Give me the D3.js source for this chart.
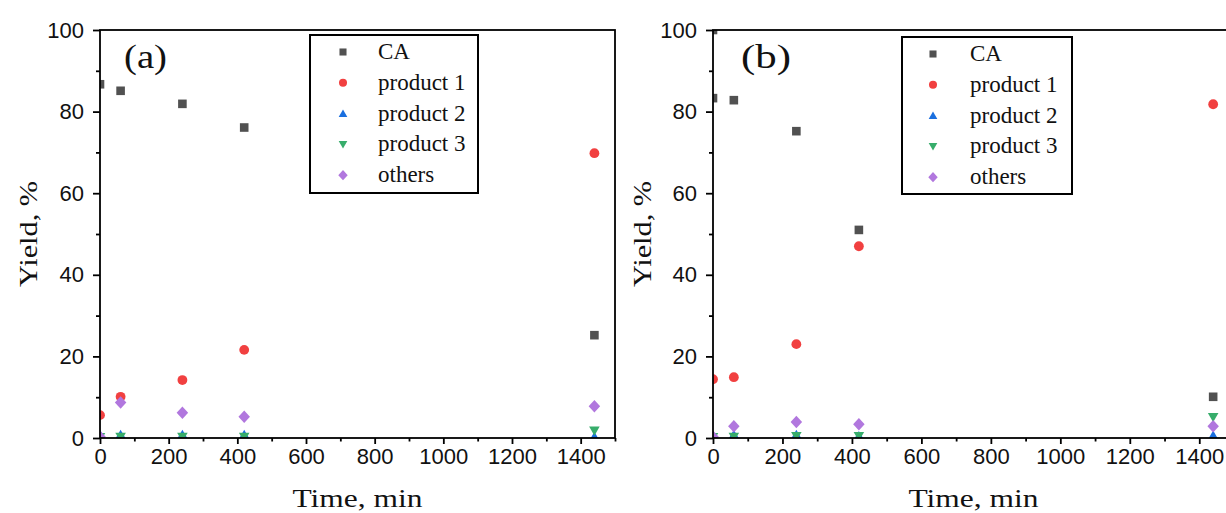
<!DOCTYPE html>
<html>
<head>
<meta charset="utf-8">
<script src="https://cdn.jsdelivr.net/npm/d3@7/dist/d3.min.js"></script>
<style>
  html, body { margin: 0; padding: 0; background: #fff; overflow: hidden; }
  svg { display: block; }
</style>
</head>
<body>
<svg id="chart" width="1226" height="513"></svg>
<script>
// Sampling times (min)
const times = [0, 60, 240, 420, 1440];

// Panel (a) yields, %
const caTimesA = [0, 60, 240, 420, 1440];
const caA   = [86.7, 85.1, 81.9, 76.1, 25.2];
const p1A   = [5.6, 10.1, 14.2, 21.6, 69.8];
const p2A   = [0.8, 0.8, 0.8, 0.8, 0.3];
const p3A   = [0.2, 0.3, 0.3, 0.3, 1.8];
const othA  = [0.3, 8.7, 6.2, 5.2, 7.8];

// Panel (b) yields, %
const caTimesB = [0, 0, 60, 240, 420, 1440];
const caB   = [100, 83.3, 82.8, 75.2, 51.0, 10.1];
const p1B   = [14.4, 14.9, 23.0, 47.0, 81.8];
const p2B   = [0.5, 0.8, 0.8, 0.5, 0.6];
const p3B   = [0.2, 0.3, 0.5, 0.5, 5.1];
const othB  = [0.3, 2.9, 3.9, 3.4, 2.9];

// Axis ticks
const xTicks = [0, 200, 400, 600, 800, 1000, 1200, 1400];
const xMinor = [100, 300, 500, 700, 900, 1100, 1300, 1500];
const yTicks = [0, 20, 40, 60, 80, 100];
const yMinor = [10, 30, 50, 70, 90];

const seriesNames = ["CA", "product 1", "product 2", "product 3", "others"];
const seriesColors = ["#515151", "#F14040", "#1A6FDF", "#37AD6B", "#B177DE"];

// Symbol path generators, r = half size
const shapes = {
  square: r => `M${-r},${-r}H${r}V${r}H${-r}Z`,
  circle: r => d3.symbol(d3.symbolCircle, Math.PI * r * r)(),
  up: r => `M0,${-r * 1.05}L${r * 1.1},${r * 0.85}L${-r * 1.1},${r * 0.85}Z`,
  down: r => `M0,${r * 1.05}L${r * 1.1},${-r * 0.85}L${-r * 1.1},${-r * 0.85}Z`,
  diamond: r => `M0,${-r * 1.25}L${r * 1.15},0L0,${r * 1.25}L${-r * 1.15},0Z`
};
const shapeKeys = ["square", "circle", "up", "down", "diamond"];
const markR = [4.3, 4.9, 4.8, 4.8, 5.0];

const svg = d3.select("#chart");

function panel(opts) {
  const { left, top, width, height, label, id, series, legend, yTitleX } = opts;
  const g = svg.append("g");

  const x = d3.scaleLinear().domain([0, 1500]).range([left, left + width]);
  const y = d3.scaleLinear().domain([0, 100]).range([top + height, top]);

  g.append("clipPath").attr("id", id)
    .append("rect").attr("x", left).attr("y", top).attr("width", width).attr("height", height);

  // Markers, clipped to the plot area
  const plot = g.append("g").attr("clip-path", `url(#${id})`);
  series.forEach((s, i) => {
    plot.append("g").selectAll("path")
      .data(s.values.map((v, k) => ({ t: s.times[k], v })))
      .join("path")
      .attr("transform", d => `translate(${x(d.t)},${y(d.v)})`)
      .attr("d", shapes[shapeKeys[i]](markR[i]))
      .attr("fill", seriesColors[i]);
  });

  // Frame
  g.append("rect").attr("x", left).attr("y", top).attr("width", width).attr("height", height)
    .attr("fill", "none").attr("stroke", "#000").attr("stroke-width", 1.8);

  // Bottom axis
  const xAxis = g.append("g").attr("transform", `translate(0,${top + height})`)
    .call(d3.axisBottom(x).tickValues(xTicks).tickSize(6).tickPadding(4).tickFormat(d3.format("d")));
  xAxis.select(".domain").remove();
  xAxis.selectAll("line").attr("stroke-width", 1.8);
  xAxis.selectAll("text").attr("font-family", "Liberation Sans, Arial, sans-serif")
    .attr("font-size", 22).attr("fill", "#111");
  const xm = g.append("g").attr("transform", `translate(0,${top + height})`)
    .call(d3.axisBottom(x).tickValues(xMinor).tickSize(3.5).tickFormat(""));
  xm.select(".domain").remove();
  xm.selectAll("line").attr("stroke-width", 1.8);

  // Left axis
  const yAxis = g.append("g").attr("transform", `translate(${left},0)`)
    .call(d3.axisLeft(y).tickValues(yTicks).tickSize(7).tickPadding(9));
  yAxis.select(".domain").remove();
  yAxis.selectAll("line").attr("stroke-width", 1.8);
  yAxis.selectAll("text").attr("font-family", "Liberation Sans, Arial, sans-serif")
    .attr("font-size", 22).attr("fill", "#111");
  const ym = g.append("g").attr("transform", `translate(${left},0)`)
    .call(d3.axisLeft(y).tickValues(yMinor).tickSize(4).tickFormat(""));
  ym.select(".domain").remove();
  ym.selectAll("line").attr("stroke-width", 1.8);

  // Axis titles
  g.append("text")
    .attr("x", x(750)).attr("y", top + height + 69)
    .attr("text-anchor", "middle")
    .attr("font-family", "Liberation Serif, Times New Roman, serif")
    .attr("font-size", 26)
    .attr("fill", "#111")
    .attr("textLength", 130).attr("lengthAdjust", "spacingAndGlyphs")
    .text("Time, min");
  g.append("text")
    .attr("transform", `translate(${yTitleX},${top + height / 2}) rotate(-90)`)
    .attr("text-anchor", "middle")
    .attr("font-family", "Liberation Serif, Times New Roman, serif")
    .attr("font-size", 25)
    .attr("fill", "#111")
    .attr("textLength", 106).attr("lengthAdjust", "spacingAndGlyphs")
    .text("Yield, %");

  // Panel label
  g.append("text")
    .attr("x", label.x).attr("y", top + 38)
    .attr("font-family", "Liberation Serif, Times New Roman, serif")
    .attr("font-size", 34)
    .attr("fill", "#111")
    .attr("textLength", label.w).attr("lengthAdjust", "spacingAndGlyphs")
    .text(label.text);

  // Legend
  const lg = g.append("g");
  lg.append("rect").attr("x", legend.x).attr("y", legend.y)
    .attr("width", legend.w).attr("height", legend.h)
    .attr("fill", "#fff").attr("stroke", "#000").attr("stroke-width", 2);
  seriesNames.forEach((name, i) => {
    const cy = legend.y + 17 + i * 30.8;
    lg.append("path")
      .attr("transform", `translate(${legend.x + legend.sx},${cy})`)
      .attr("d", shapes[shapeKeys[i]](markR[i] * 0.82))
      .attr("fill", seriesColors[i]);
    lg.append("text")
      .attr("x", legend.x + legend.tx).attr("y", cy + 7)
      .attr("font-family", "Liberation Serif, Times New Roman, serif")
      .attr("font-size", 23)
      .attr("fill", "#111")
      .text(name);
  });
}

panel({
  id: "clipA", left: 100, top: 30, width: 515, height: 408,
  yTitleX: 37,
  label: { text: "(a)", x: 124, w: 43 },
  legend: { x: 310, y: 35, w: 168, h: 158, sx: 33, tx: 68 },
  series: [
    { times: caTimesA, values: caA },
    { times: times, values: p1A },
    { times: times, values: p2A },
    { times: times, values: p3A },
    { times: times, values: othA }
  ]
});

panel({
  id: "clipB", left: 713, top: 30, width: 521, height: 408,
  yTitleX: 651,
  label: { text: "(b)", x: 741, w: 50 },
  legend: { x: 902, y: 37, w: 170, h: 157, sx: 31, tx: 68 },
  series: [
    { times: caTimesB, values: caB },
    { times: times, values: p1B },
    { times: times, values: p2B },
    { times: times, values: p3B },
    { times: times, values: othB }
  ]
});
</script>
</body>
</html>
